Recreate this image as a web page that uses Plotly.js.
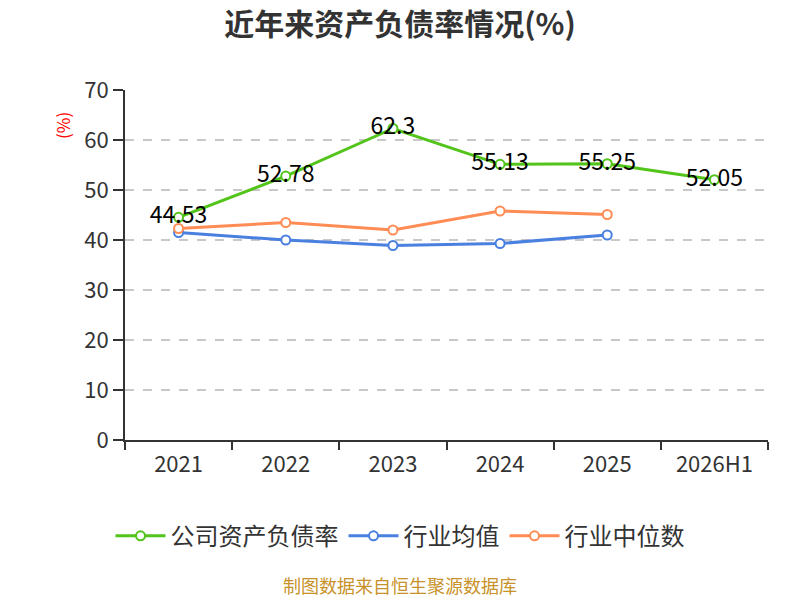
<!DOCTYPE html>
<html>
<head>
<meta charset="utf-8">
<script src="https://cdn.plot.ly/plotly-3.0.1.min.js"></script>
<style>
  body { margin: 0; background: #fff; }
  #chart { width: 800px; height: 600px; }
</style>
</head>
<body>
<div id="chart"></div>
<script>
const years = ["2021", "2022", "2023", "2024", "2025", "2026H1"];
const companyRate = [44.53, 52.78, 62.3, 55.13, 55.25, 52.05];
const industryAvg = [41.5, 40.0, 38.9, 39.3, 41.0];
const industryMedian = [42.3, 43.5, 42.0, 45.8, 45.1];

const FONT = "Noto Sans CJK SC, Noto Sans, sans-serif";

function series(name, x, y, color, withText) {
  const tr = {
    type: "scatter", mode: withText ? "lines+markers+text" : "lines+markers",
    name, x, y,
    line: { color, width: 3 },
    marker: { size: 9, color: "#fff", line: { color, width: 2 } },
    cliponaxis: false,
    hoverinfo: "x+y"
  };
  if (withText) {
    tr.text = y.map(v => String(v));
    tr.textposition = "middle center";
    tr.textfont = { family: FONT, size: 23, color: "#000" };
  }
  return tr;
}

const data = [
  series("公司资产负债率", years, companyRate, "#52c41a", true),
  series("行业均值", years.slice(0, 5), industryAvg, "#4a80e0", false),
  series("行业中位数", years.slice(0, 5), industryMedian, "#ff8c55", false)
];

const layout = {
  width: 800, height: 600,
  paper_bgcolor: "#fff", plot_bgcolor: "#fff",
  font: { family: FONT, color: "#333" },
  margin: { l: 125, r: 32, t: 90, b: 160, autoexpand: false },
  title: { text: "<b>近年来资产负债率情况(%)</b>", x: 0.5, y: 0.96, yanchor: "middle",
           font: { size: 30, color: "#333", family: FONT } },
  xaxis: {
    type: "category", tickson: "boundaries", tickangle: 0,
    showline: true, linecolor: "#333", linewidth: 2,
    ticks: "outside", ticklen: 8, tickcolor: "#333", tickwidth: 1.5,
    showgrid: false, tickfont: { size: 22, color: "#333" },
    ticklabelstandoff: 4,
    range: [-0.5, 5.5]
  },
  yaxis: {
    range: [0, 70], dtick: 10,
    showline: true, linecolor: "#333", linewidth: 2,
    ticks: "outside", ticklen: 10, tickcolor: "#333", tickwidth: 1.5,
    gridcolor: "#c8c8c8", griddash: "dash", gridwidth: 1.5,
    zeroline: false, tickfont: { size: 22, color: "#333" }
  },
  legend: {
    orientation: "h", x: 0.4277, xanchor: "center", y: -0.275, yanchor: "middle",
    font: { size: 24, color: "#333" }, itemwidth: 50
  },
  annotations: [
    { text: "(%)", xref: "paper", yref: "paper", x: -0.098, y: 0.9,
      xanchor: "center", yanchor: "middle", showarrow: false,
      textangle: -90, font: { size: 17, color: "#ff0000" } },
    { text: "制图数据来自恒生聚源数据库", xref: "paper", yref: "paper", x: 0.4277, y: -0.415,
      yanchor: "middle", showarrow: false, font: { size: 18, color: "#c8922a" } }
  ],
  showlegend: true
};

Plotly.newPlot("chart", data, layout, { displayModeBar: false, responsive: false });
</script>
</body>
</html>
